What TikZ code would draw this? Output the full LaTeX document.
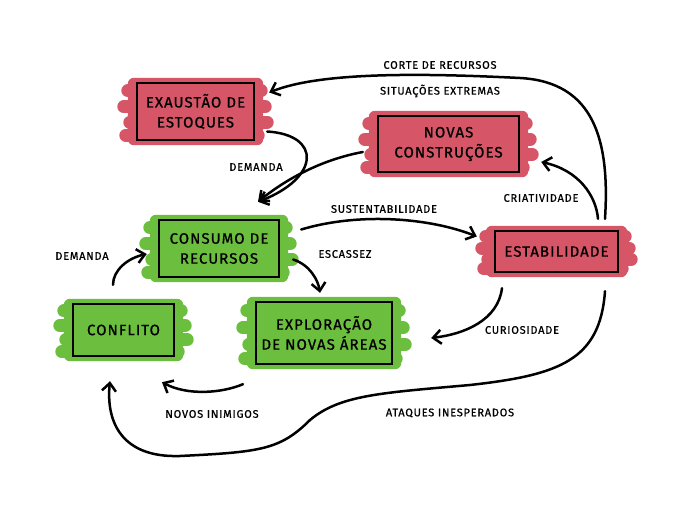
\documentclass[tikz,border=0pt]{standalone}
\usepackage{fontspec}
\newfontfamily\hand[LetterSpace=7,FakeBold=0.8]{Fira Sans}
\usetikzlibrary{arrows.meta,calc,backgrounds}
\definecolor{hred}{RGB}{214,86,104}
\definecolor{hgreen}{RGB}{108,190,62}
\tikzset{
  box/.style={draw=black, line width=2.4pt, align=center, font=\hand\fontsize{15}{20}\selectfont, inner sep=0pt},
  redbox/.style={box, fill=hred},
  greenbox/.style={box, fill=hgreen},
  lbl/.style={font=\hand\fontsize{11}{13}\selectfont, inner sep=1pt},
  conn/.style={line width=2.5pt, line cap=round, -{Straight Barb[length=8pt,width=14pt,line width=2.5pt]}}
}
\newcommand\brush[2]{%
  \fill[#2, rounded corners=6pt] ($(#1.north west)+(-8,-4)$) rectangle ($(#1.south east)+(8,4)$);
  \foreach \ff/\lo/\ro in {0.15/-8/6, 0.42/-12/10, 0.68/-6/12, 0.9/-10/3} {
    \draw[#2, line width=13pt, line cap=round] ($(#1.north west)!\ff!(#1.south west)+(\lo,0)$) -- ($(#1.north east)!\ff!(#1.south east)+(\ro,0)$);
  }}
\begin{document}
\begin{tikzpicture}[x=1pt,y=-1pt]
\useasboundingbox (0,0) rectangle (680,510);
% boxes
\node[redbox, minimum width=117pt, minimum height=57pt] (exa) at (195.5,111.5) {EXAUSTÃO DE\\ESTOQUES};
\node[redbox, minimum width=141pt, minimum height=56pt] (nov) at (448.5,144) {NOVAS\\CONSTRUÇÕES};
\node[redbox, minimum width=123pt, minimum height=41pt] (est) at (556.5,251.5) {ESTABILIDADE};
\node[greenbox, minimum width=120pt, minimum height=57pt] (con) at (219,248.5) {CONSUMO DE\\RECURSOS};
\node[greenbox, minimum width=101pt, minimum height=52pt] (cfl) at (123.5,330) {CONFLITO};
\node[greenbox, minimum width=136pt, minimum height=62pt] (exp) at (324,333) {EXPLORAÇÃO\\DE NOVAS ÁREAS};
\begin{scope}[on background layer]
  \brush{exa}{hred}
  \brush{nov}{hred}
  \brush{est}{hred}
  \brush{con}{hgreen}
  \brush{cfl}{hgreen}
  \brush{exp}{hgreen}
\end{scope}
% labels
\node[lbl] (l1) at (440,65) {CORTE DE RECURSOS};
\node[lbl] (l2) at (440,91) {SITUAÇÕES EXTREMAS};
\node[lbl] (l3) at (256,167) {DEMANDA};
\node[lbl] (l4) at (384,209) {SUSTENTABILIDADE};
\node[lbl] (l5) at (345,254) {ESCASSEZ};
\node[lbl] (l6) at (541,198) {CRIATIVIDADE};
\node[lbl] (l7) at (522,330) {CURIOSIDADE};
\node[lbl] (l8) at (82,256) {DEMANDA};
\node[lbl] (l9) at (212,414) {NOVOS INIMIGOS};
\node[lbl] (l10) at (450,413) {ATAQUES INESPERADOS};
% connectors
\draw[conn] ([shift={(48.5,-11)}]est.north) .. controls (610,140) and (594,82) .. (520,78) .. controls (420,73) and (320,72) .. ([shift={(14,-19)}]exa.east);
\draw[conn] ([shift={(12,20)}]exa.east) .. controls (322,135) and (320,178) .. ([shift={(39,-17)}]con.north);
\draw[conn] ([shift={(-14,8)}]nov.west) .. controls (320,160) and (285,180) .. ([shift={(39,-17)}]con.north);
\draw[conn] ([shift={(21,-19)}]con.east) .. controls (360,212) and (430,218) .. ([shift={(-17,-15)}]est.west);
\draw[conn] ([shift={(13,11)}]con.east) .. controls (310,265) and (318,280) .. ([shift={(-4,-8)}]exp.north);
\draw[conn] ([shift={(41.5,-11)}]est.north) .. controls (596,195) and (578,170) .. ([shift={(21,18)}]nov.east);
\draw[conn] ([shift={(-54.5,15)}]est.south) .. controls (498,320) and (465,334) .. ([shift={(38,5)}]exp.east);
\draw[conn] ([shift={(-10.5,-18)}]cfl.north) .. controls (113,270) and (128,258) .. ([shift={(-11,5.5)}]con.west);
\draw[conn] ([shift={(-81,19)}]exp.south) .. controls (222,393) and (188,396) .. ([shift={(38.5,25)}]cfl.south);
\draw[conn] ([shift={(48.5,18)}]est.south) .. controls (600,360) and (560,375) .. (470,385) .. controls (380,393) and (340,395) .. (310,420) .. controls (280,450) and (260,452) .. (180,456) .. controls (120,458) and (106,420) .. ([shift={(-13.5,24)}]cfl.south);
\end{tikzpicture}
\end{document}
